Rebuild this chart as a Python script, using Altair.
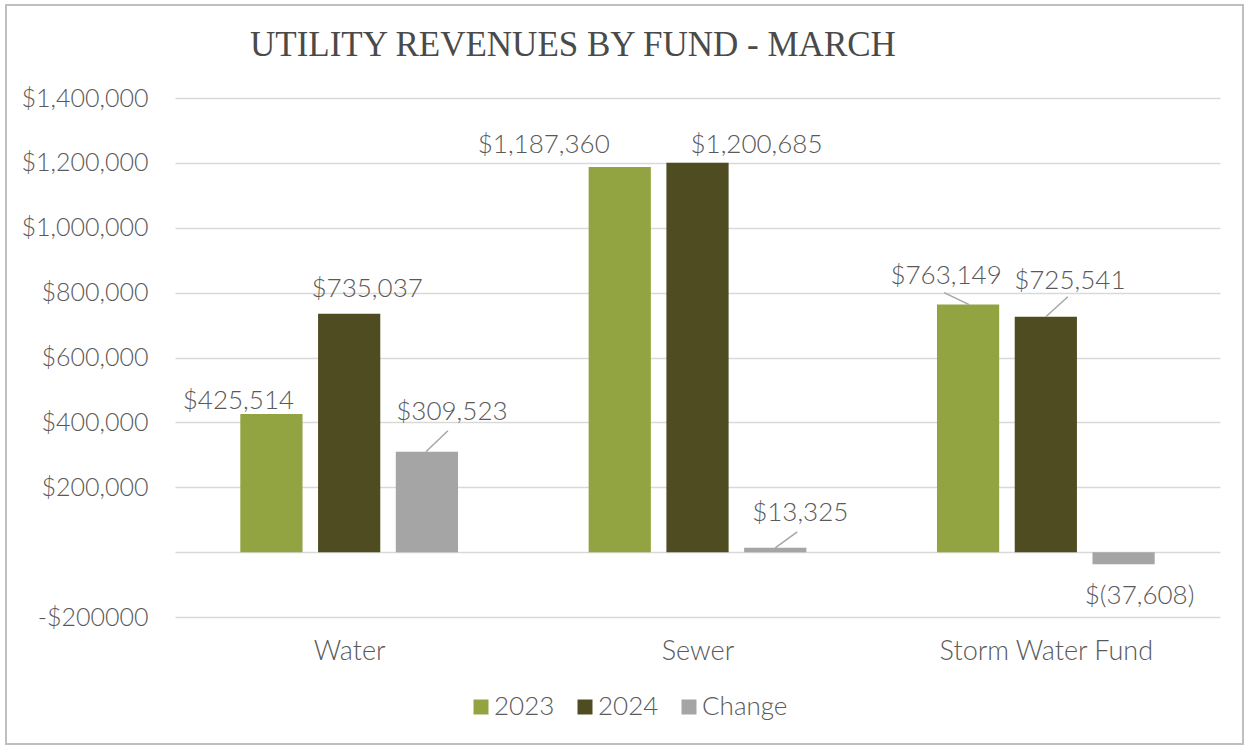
import json
import altair as alt
import pandas as pd

# ---------------- data ----------------
funds = ["Water", "Sewer", "Storm Water Fund"]
series_names = ["2023", "2024", "Change"]
values_2023 = [425514, 1187360, 763149]
values_2024 = [735037, 1200685, 725541]
values_change = [309523, 13325, -37608]
y_ticks = [-200000, 0, 200000, 400000, 600000, 800000, 1000000, 1200000, 1400000]
title_text = "UTILITY REVENUES BY FUND - MARCH"

rows = []
for fi, fund in enumerate(funds):
    for si, (name, vals) in enumerate(zip(series_names, [values_2023, values_2024, values_change])):
        rows.append({"fund": fund, "fund_idx": fi, "series": name, "series_idx": si, "value": vals[fi]})
df = pd.DataFrame(rows)

# ---------------- style / layout ----------------
COLORS = ["#92A441", "#4F4C22", "#A5A5A5"]
TEXT = "#595959"
FONT = "Lato"
GRID = "#D9D9D9"
STEP = 0.2232      # offset between bars inside a group (in category units)
HALF = 0.0893      # half bar width (in category units)

# label pixel offsets from (bar centre, bar end)
LABEL_OFFSETS = {
    ("Water", "2023"): (-33, -13),
    ("Water", "2024"): (18, -25),
    ("Water", "Change"): (25, -40),
    ("Sewer", "2023"): (-76, -22),
    ("Sewer", "2024"): (59, -18),
    ("Sewer", "Change"): (25, -35),
    ("Storm Water Fund", "2023"): (-22, -29),
    ("Storm Water Fund", "2024"): (24, -36),
    ("Storm Water Fund", "Change"): (16, 32),
}
# leader lines: (start dx, start dy, end dx, end dy)
LEADERS = {
    ("Water", "Change"): (-1, 0, 21, -21),
    ("Sewer", "Change"): (0, 0, 22, -16),
    ("Storm Water Fund", "2023"): (1, 0, -24, -12),
    ("Storm Water Fund", "2024"): (0, 0, 22, -20),
}

x_scale = alt.Scale(domain=[-0.5, 2.5], nice=False, zero=False)
y_scale = alt.Scale(domain=[-200000, 1400000], nice=False, zero=False)

base = alt.Chart(df).transform_calculate(
    xc=f"datum.fund_idx + (datum.series_idx - 1) * {STEP}",
    x0=f"datum.fund_idx + (datum.series_idx - 1) * {STEP} - {HALF}",
    x1=f"datum.fund_idx + (datum.series_idx - 1) * {STEP} + {HALF}",
    label="datum.value < 0 ? '$(' + format(-datum.value, ',') + ')' : '$' + format(datum.value, ',')",
)

y_label_expr = (
    "datum.value < 0 ? '-$' + format(-datum.value, 'd') : "
    "(datum.value == 0 ? '' : '$' + format(datum.value, ','))"
)
x_label_expr = f"{json.dumps(funds)}[datum.value]"

bars = base.mark_bar().encode(
    x=alt.X(
        "x0:Q",
        scale=x_scale,
        title=None,
        axis=alt.Axis(
            values=[0, 1, 2], labelExpr=x_label_expr, grid=False, ticks=False, domain=False,
            labelFont=FONT, labelFontSize=27, labelColor=TEXT, labelPadding=21, labelFontWeight=300,
            labelLimit=0,
        ),
    ),
    x2="x1:Q",
    y=alt.Y(
        "value:Q",
        scale=y_scale,
        title=None,
        axis=alt.Axis(
            values=y_ticks, labelExpr=y_label_expr, ticks=False, domain=False, grid=True,
            gridColor=GRID, gridWidth=1.5, labelFont=FONT, labelFontSize=25, labelColor=TEXT,
            labelPadding=27, labelFontWeight=300, labelLimit=0,
        ),
    ),
    y2=alt.datum(0),
    color=alt.Color(
        "series:N",
        scale=alt.Scale(domain=series_names, range=COLORS),
        legend=alt.Legend(
            title=None, orient="none", legendX=293, legendY=596, direction="horizontal",
            symbolType="square", symbolSize=225, symbolStrokeWidth=0, labelFont=FONT,
            labelFontSize=26, labelColor=TEXT, labelFontWeight=300, columnPadding=17, labelOffset=0,
        ),
    ),
)

layers = [bars]
for (fund, ser), (dx, dy) in LABEL_OFFSETS.items():
    layers.append(
        base.transform_filter(f"datum.fund == '{fund}' && datum.series == '{ser}'")
        .mark_text(dx=dx, dy=dy, font=FONT, fontSize=26, fontWeight=300, color=TEXT, baseline="middle")
        .encode(x=alt.X("xc:Q"), y=alt.Y("value:Q"), text="label:N")
    )
for (fund, ser), (a, b, c, d) in LEADERS.items():
    layers.append(
        base.transform_filter(f"datum.fund == '{fund}' && datum.series == '{ser}'")
        .mark_rule(xOffset=a, yOffset=b, x2Offset=c, y2Offset=d, color="#A6A6A6", strokeWidth=1.5)
        .encode(x=alt.X("xc:Q"), x2="xc:Q", y=alt.Y("value:Q"), y2="value:Q")
    )

single = alt.Chart(pd.DataFrame({"title": [title_text]}))
title_mark = single.mark_text(
    align="left", baseline="alphabetic", font="Liberation Serif", fontSize=35, color="#4A4A4A"
).encode(x=alt.value(75), y=alt.value(-42), text="title:N")
frame = single.mark_rect(
    fill=None, stroke="#BFBFBF", strokeWidth=2
).encode(x=alt.value(-169), x2=alt.value(1068), y=alt.value(-93), y2=alt.value(646))
layers += [title_mark, frame]

chart = alt.layer(*layers).properties(
    width=1045,
    height=519,
    autosize=alt.AutoSizeParams(type="none"),
    padding={"left": 175, "top": 98, "right": 25, "bottom": 129},
).configure(background="white").configure_view(stroke=None)

chart.save("out.html", embed_options={"renderer": "svg", "actions": False})
